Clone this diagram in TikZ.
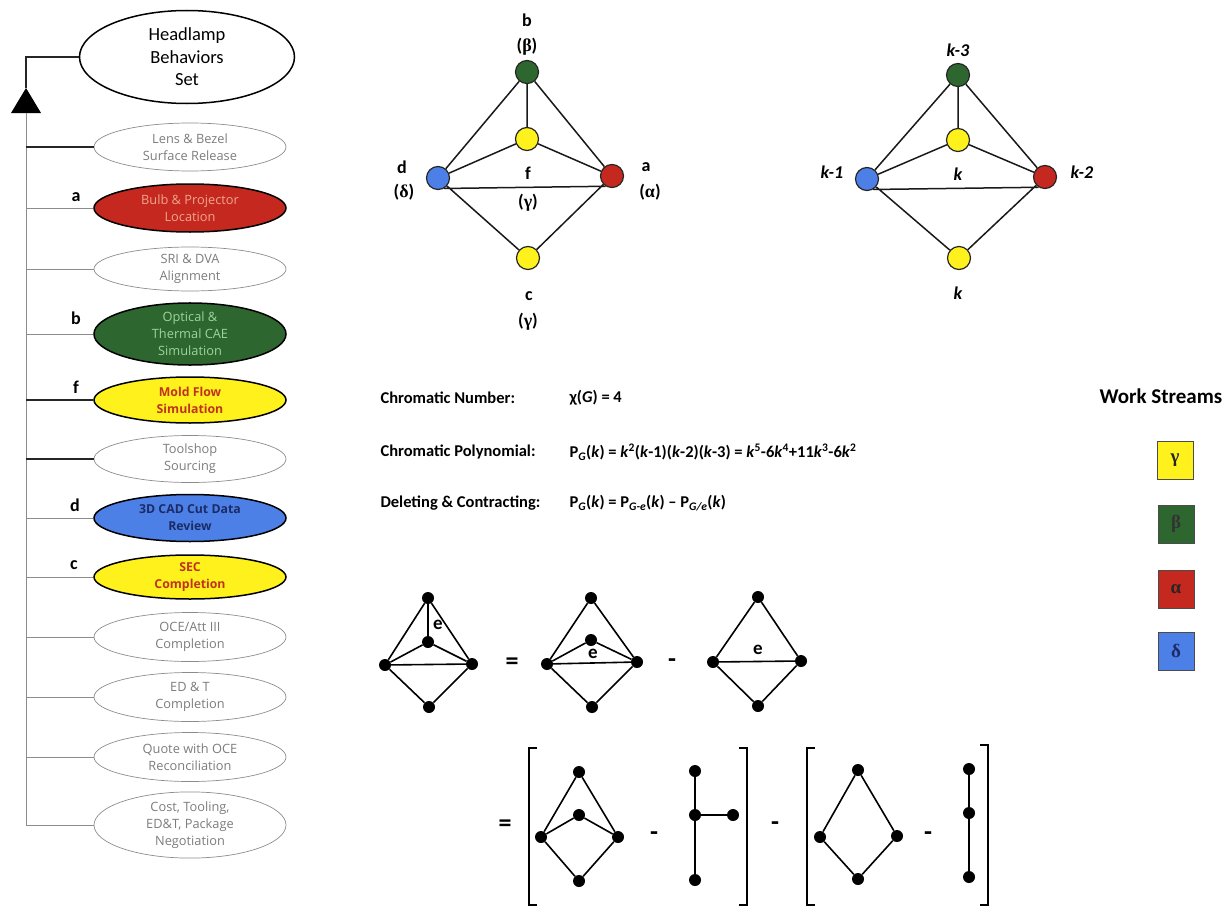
\documentclass[tikz,border=0pt]{standalone}
\usepackage{fontspec}
\setmainfont{Carlito}
\newfontfamily\taskfont{Open Sans}
\newfontfamily\greekfont{Liberation Serif}
\usetikzlibrary{shapes.geometric,calc}

\definecolor{wsYellow}{HTML}{FFF21C}
\definecolor{wsGreen}{HTML}{2E6630}
\definecolor{wsRed}{HTML}{C4281E}
\definecolor{wsBlue}{HTML}{4C80E6}
\definecolor{txGray}{HTML}{7C7C7C}
\definecolor{txSalmon}{HTML}{F0A58E}
\definecolor{txMint}{HTML}{9CD49A}
\definecolor{txRust}{HTML}{C0321E}
\definecolor{txNavy}{HTML}{1B2B66}

\newcommand\kv{\textit{k}}
\newcommand\gk[1]{{\greekfont\bfseries #1}}

\begin{document}
\begin{tikzpicture}[x=1pt,y=-1pt,
  task/.style={ellipse, draw=black!45, line width=0.7, minimum width=192,
    minimum height=48, inner sep=0, align=center, text=txGray,
    font=\taskfont\fontsize{12.8}{17}\selectfont},
  hotfont/.style={font=\taskfont\bfseries\fontsize{12.3}{17}\selectfont},
  hot/.style={task, draw=black, line width=1.5},
  tag/.style={font=\bfseries\fontsize{18}{18}\selectfont},
  link/.style={black!45, line width=0.8},
  boldlink/.style={black!85, line width=1.6},
  vtx/.style={circle, draw=black!85, line width=1.2, minimum size=23, inner sep=0},
  gedge/.style={black!90, line width=1.5},
  glabel/.style={font=\bfseries\fontsize{18}{18}\selectfont},
  klabel/.style={font=\bfseries\itshape\fontsize{18}{18}\selectfont},
  dot/.style={circle, fill=black, minimum size=12, inner sep=0},
  dedge/.style={black, line width=1.6},
  opsign/.style={font=\bfseries\fontsize{26}{26}\selectfont},
  elabel/.style={font=\bfseries\fontsize{19}{19}\selectfont},
  bracket/.style={black, line width=1.2},
  formula/.style={anchor=west, font=\bfseries\fontsize{16.5}{20}\selectfont},
  swatch/.style={draw=black!70, line width=0.8, minimum width=36, minimum height=38,
    inner sep=0, font=\greekfont\bfseries\fontsize{19}{19}\selectfont}
]
\useasboundingbox (0,0) rectangle (1229,907);

% ---------------- behaviour hierarchy ----------------
\node[ellipse, draw=black, line width=1.5, minimum width=215, minimum height=93,
  inner sep=0, align=center, font=\fontsize{18.5}{22.5}\selectfont] (head) at (187,57)
  {Headlamp\\Behaviors\\Set};

\node[task] (l1) at (190,147) {Lens \& Bezel\\Surface Release};
\node[hot, fill=wsRed, text=txSalmon] (l2) at (190,208) {Bulb \& Projector\\Location};
\node[task, minimum height=44] (l3) at (190,269) {SRI \& DVA\\Alignment};
\node[hot, fill=wsGreen, text=txMint, minimum height=58] (l4) at (190,334) {Optical \&\\Thermal CAE\\Simulation};
\node[hot, hotfont, fill=wsYellow, text=txRust, minimum height=46] (l5) at (190,400) {Mold Flow\\Simulation};
\node[task, minimum height=47] (l6) at (190,459) {Toolshop\\Sourcing};
\node[hot, hotfont, fill=wsBlue, text=txNavy, minimum height=47] (l7) at (190,518) {3D CAD Cut Data\\Review};
\node[hot, hotfont, fill=wsYellow, text=txRust, minimum height=44] (l8) at (190,577) {SEC\\Completion};
\node[task, minimum height=49] (l9) at (190,637) {OCE/Att III\\Completion};
\node[task, minimum height=49] (l10) at (190,697) {ED \& T\\Completion};
\node[task, minimum height=49] (l11) at (190,757) {Quote with OCE\\Reconciliation};
\node[task, minimum height=66] (l12) at (190,825) {Cost, Tooling,\\ED\&T, Package\\Negotiation};

\node[tag] (ta) at (76,197) {a};
\node[tag] (tb) at (76,318) {b};
\node[tag] (tf) at (76,387) {f};
\node[tag] (td) at (75,505) {d};
\node[tag] (tc) at (74,565) {c};

% spine with its arrowhead
\coordinate (sp) at (26,0);
\coordinate (apex) at (26,88);
\coordinate (tl) at (11,113);
\coordinate (tr) at (41,113);
\coordinate (base) at (26,113);
\fill[black] (apex) -- (tl) -- (tr) -- cycle;
\draw[boldlink] (apex) |- (head.west);
\draw[link] (base) -- (l12.west -| sp);
\foreach \n in {l2,l3,l4,l7,l8,l9,l10,l11,l12}
  \draw[link] (\n.west -| sp) -- (\n.west);
\foreach \n in {l1,l5,l6}
  \draw[boldlink] (\n.west -| sp) -- (\n.west);

% ---------------- coloured graph ----------------
\node[vtx, fill=wsGreen] (gb) at (527,72) {};
\node[vtx, fill=wsYellow] (gf) at (527,139) {};
\node[vtx, fill=wsBlue] (gd) at (438,178) {};
\node[vtx, fill=wsRed] (ga) at (612,176) {};
\node[vtx, fill=wsYellow] (gc) at (528,258) {};
\draw[gedge] (gb) -- (gd) (gb) -- (ga) (gb) -- (gf) (gf) -- (gd) (gf) -- (ga)
  (gd.-60) -- (ga.-122) (gd) -- (gc) (ga) -- (gc);

\node[glabel] (lb) at (527,20) {b};
\node[glabel] (lbg) at (527,47) {(\gk{β})};
\node[glabel] (ld) at (402,167) {d};
\node[glabel] (ldg) at (404,192) {(\gk{δ})};
\node[glabel] (lf) at (528,173) {f};
\node[glabel] (lfg) at (528,203) {(\gk{γ})};
\node[glabel] (la) at (646,167) {a};
\node[glabel] (lag) at (650,192) {(\gk{α})};
\node[glabel] (lc) at (529,296) {c};
\node[glabel] (lcg) at (528,322) {(\gk{γ})};

% ---------------- counting graph ----------------
\node[vtx, fill=wsGreen] (kb) at (958,75) {};
\node[vtx, fill=wsYellow] (kf) at (958,140) {};
\node[vtx, fill=wsBlue] (kd) at (867,179) {};
\node[vtx, fill=wsRed] (ka) at (1045,177) {};
\node[vtx, fill=wsYellow] (kc) at (959,258) {};
\draw[gedge] (kb) -- (kd) (kb) -- (ka) (kb) -- (kf) (kf) -- (kd) (kf) -- (ka)
  (kd.-60) -- (ka.-122) (kd) -- (kc) (ka) -- (kc);
\node[klabel] (kbl) at (958,50) {k-3};
\node[klabel] (kdl) at (832,172) {k-1};
\node[klabel] (kfl) at (958,174) {k};
\node[klabel] (kal) at (1082,172) {k-2};
\node[klabel] (kcl) at (958,293) {k};

% ---------------- formulas ----------------
\node[formula] (f1l) at (377,398) {Chromatic Number:};
\node[formula] (f1r) at (566,398) {χ(\textit{G}) = 4};
\node[formula] (f2l) at (377,452) {Chromatic Polynomial:};
\node[formula] (f2r) at (566,452) {P\textsubscript{\textit{G}}(\kv) = \kv\textsuperscript{2}(\kv-1)(\kv-2)(\kv-3) = \kv\textsuperscript{5}-6\kv\textsuperscript{4}+11\kv\textsuperscript{3}-6\kv\textsuperscript{2}};
\node[formula] (f3l) at (377,503) {Deleting \& Contracting:};
\node[formula] (f3r) at (566,503) {P\textsubscript{\textit{G}}(\kv) = P\textsubscript{\textit{G-e}}(\kv) – P\textsubscript{\textit{G/e}}(\kv)};

% ---------------- work streams legend ----------------
\node[font=\bfseries\fontsize{21}{21}\selectfont] (wst) at (1161,396) {Work Streams};
\node[swatch, fill=wsYellow, text=black!85] (sg) at (1175,460) {γ};
\node[swatch, fill=wsGreen, text=black!80] (sb) at (1176,524) {β};
\node[swatch, fill=wsRed, text=black!85] (sa) at (1176,589) {α};
\node[swatch, fill=wsBlue, text=txNavy] (sd) at (1176,651) {δ};

% ---------------- deletion-contraction, first line ----------------
\node[dot] (p1t) at (428,598) {};
\node[dot] (p1m) at (428,642) {};
\node[dot] (p1l) at (385,665) {};
\node[dot] (p1r) at (472,664) {};
\node[dot] (p1b) at (429,707) {};
\draw[dedge] (p1t) -- (p1l) (p1t) -- (p1r) (p1t) -- (p1m) (p1m) -- (p1l) (p1m) -- (p1r)
  (p1l) -- (p1r) (p1l) -- (p1b) (p1r) -- (p1b);
\node[elabel] (p1e) at (438,625) {e};

\node[opsign] (eq1) at (512,664) {=};

\node[dot] (p2t) at (591,598) {};
\node[dot] (p2m) at (591,640) {};
\node[dot] (p2l) at (547,664) {};
\node[dot] (p2r) at (637,662) {};
\node[dot] (p2b) at (592,707) {};
\draw[dedge] (p2t) -- (p2l) (p2t) -- (p2r) (p2m) -- (p2l) (p2m) -- (p2r)
  (p2l) -- (p2r) (p2l) -- (p2b) (p2r) -- (p2b);
\node[elabel] (p2e) at (593,654) {e};

\node[opsign] (mi1) at (672,663) {-};

\node[dot] (p3t) at (758,597) {};
\node[dot] (p3l) at (713,662) {};
\node[dot] (p3r) at (801,661) {};
\node[dot] (p3b) at (758,706) {};
\draw[dedge] (p3t) -- (p3l) (p3t) -- (p3r) (p3l) -- (p3r) (p3l) -- (p3b) (p3r) -- (p3b);
\node[elabel] (p3e) at (758,650) {e};

% ---------------- deletion-contraction, second line ----------------
\node[opsign] (eq2) at (505,826) {=};

\coordinate (b1t) at (529,748);
\coordinate (b1b) at (529,905);
\draw[bracket] ($(b1t)+(8,0)$) -- (b1t) -- (b1b) -- ($(b1b)+(8,0)$);

\node[dot] (q1t) at (579,772) {};
\node[dot] (q1m) at (579,815) {};
\node[dot] (q1l) at (541,837) {};
\node[dot] (q1r) at (618,837) {};
\node[dot] (q1b) at (579,881) {};
\draw[dedge] (q1t) -- (q1l) (q1t) -- (q1r) (q1m) -- (q1l) (q1m) -- (q1r)
  (q1l) -- (q1b) (q1r) -- (q1b);

\node[opsign] (mi2) at (654,836) {-};

\node[dot] (q2t) at (695,771) {};
\node[dot] (q2m) at (695,815) {};
\node[dot] (q2r) at (733,815) {};
\node[dot] (q2b) at (695,880) {};
\draw[dedge] (q2t) -- (q2m) (q2m) -- (q2b) (q2m) -- (q2r);

\coordinate (b2t) at (747,748);
\coordinate (b2b) at (747,905);
\draw[bracket] ($(b2t)+(-8,0)$) -- (b2t) -- (b2b) -- ($(b2b)+(-8,0)$);

\node[opsign] (mi3) at (775,826) {-};

\coordinate (b3t) at (807,748);
\coordinate (b3b) at (807,905);
\draw[bracket] ($(b3t)+(8,0)$) -- (b3t) -- (b3b) -- ($(b3b)+(8,0)$);

\node[dot] (q3t) at (858,770) {};
\node[dot] (q3l) at (820,837) {};
\node[dot] (q3r) at (897,836) {};
\node[dot] (q3b) at (858,879) {};
\draw[dedge] (q3t) -- (q3l) (q3t) -- (q3r) (q3l) -- (q3b) (q3r) -- (q3b);

\node[opsign] (mi4) at (928,836) {-};

\node[dot] (q4t) at (969,769) {};
\node[dot] (q4m) at (969,813) {};
\node[dot] (q4b) at (969,877) {};
\draw[dedge] (q4t) -- (q4m) (q4m) -- (q4b);

\coordinate (b4t) at (988,745);
\coordinate (b4b) at (988,905);
\draw[bracket] ($(b4t)+(-8,0)$) -- (b4t) -- (b4b) -- ($(b4b)+(-8,0)$);

\end{tikzpicture}
\end{document}
